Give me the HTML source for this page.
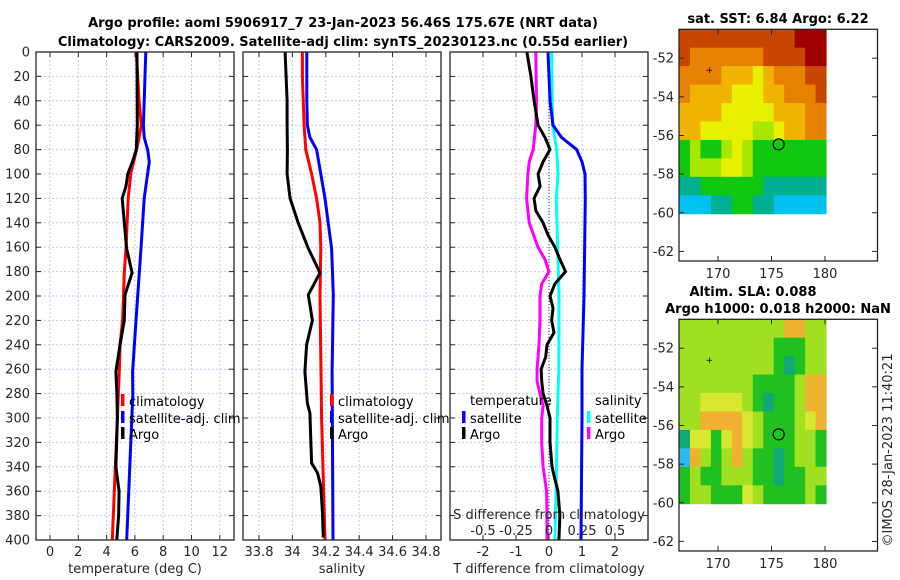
<!DOCTYPE html>
<html><head><meta charset="utf-8"><style>
html,body{margin:0;padding:0;background:#fff;}
svg{display:block;font-family:"DejaVu Sans","Liberation Sans",sans-serif;}
.tk{font-size:13px;fill:#262626;}
.lg{font-size:13px;fill:#000;}
.ttl{font-size:13px;font-weight:bold;fill:#000;}
</style></head><body>
<svg id="fig" width="900" height="580" viewBox="0 0 900 580" xmlns="http://www.w3.org/2000/svg">
<text class="ttl" x="343" y="27" text-anchor="middle">Argo profile: aoml 5906917_7 23-Jan-2023 56.46S 175.67E (NRT data)</text>
<text class="ttl" x="343" y="46" text-anchor="middle">Climatology: CARS2009. Satellite-adj clim: synTS_20230123.nc (0.55d earlier)</text>
<text class="ttl" x="778" y="23" text-anchor="middle">sat. SST: 6.84 Argo: 6.22</text>
<text class="ttl" x="753" y="296" text-anchor="middle">Altim. SLA: 0.088</text>
<text class="ttl" x="778" y="313" text-anchor="middle">Argo h1000: 0.018 h2000: NaN</text>
<text class="tk" x="0" y="0" transform="translate(892,450) rotate(-90)" text-anchor="middle" font-size="13">©IMOS 28-Jan-2023 11:40:21</text>
</svg>
<script>
// ---- data ----
const depthTclim=[0,40,60,70,80,99,120,161,181,220,240,262,281,400];
const tClim=[6.1,6.3,6.45,6.3,6.12,5.72,5.53,5.37,5.25,5.13,4.95,4.9,4.83,4.4];
const depthTsat=[0,40,60,70,80,90,120,161,220,262,281,400];
const tSat=[6.77,6.66,6.6,6.66,6.9,7.02,6.66,6.43,6.08,5.84,5.85,5.42];
const depthTargo=[0,60,80,90,100,110,120,140,161,181,199,220,240,262,281,300,340,360,380,400];
const tArgo=[6.15,6.17,6.1,5.82,5.5,5.37,5.1,5.25,5.41,5.8,5.3,5.25,4.95,4.66,4.73,4.76,4.66,4.88,4.85,4.72];
const depthSclim=[0,20,60,80,100,120,140,161,200,300,400];
const sClim=[34.06,34.06,34.07,34.08,34.115,34.145,34.165,34.17,34.165,34.175,34.195];
const depthSsat=[0,40,60,70,80,100,120,161,199,262,400];
const sSat=[34.086,34.086,34.09,34.105,34.145,34.17,34.195,34.235,34.245,34.238,34.243];
const depthSargo=[0,20,40,60,80,100,120,140,161,181,199,220,240,262,288,296,318,337,345,356,378,398];
const sArgo=[33.956,33.962,33.968,33.968,33.97,33.968,33.986,34.035,34.095,34.165,34.095,34.12,34.085,34.075,34.09,34.105,34.11,34.115,34.15,34.17,34.18,34.185];
const depthD=[0,20,40,60,70,80,90,100,110,120,130,140,150,160,170,180,190,200,210,220,230,240,250,260,270,280,290,300,320,340,350,360,380,400];
const dTargo=[-0.67,-0.55,-0.45,-0.33,-0.12,0.03,-0.18,-0.33,-0.27,-0.45,-0.4,-0.18,-0.03,0.18,0.33,0.5,0.18,0.03,0.12,0.08,0.15,-0.06,-0.1,-0.24,-0.22,-0.18,-0.06,0.03,0.03,0.09,0.18,0.27,0.33,0.3];
const depthDsat=[0,40,60,70,80,90,100,120,200,260,300,400];
const dTsat=[-0.03,0.03,0.12,0.38,0.84,1.0,1.09,1.1,1.06,1.0,1.0,0.97];
const depthDS=[0,40,60,80,90,100,120,140,160,170,180,190,200,220,240,260,270,280,290,300,320,340,360,380,400];
const dSargo=[-0.1,-0.095,-0.1,-0.12,-0.15,-0.16,-0.17,-0.15,-0.083,-0.03,0,-0.055,-0.068,-0.068,-0.076,-0.09,-0.09,-0.068,-0.045,-0.055,-0.055,-0.045,-0.018,-0.015,-0.015];
const depthDSsat=[0,60,80,100,120,200,260,300,350,400];
const dSsat=[0.02,0.028,0.058,0.068,0.055,0.076,0.074,0.063,0.055,0.045];
const depthTicks=[0,20,40,60,80,100,120,140,160,180,200,220,240,260,280,300,320,340,360,380,400];
const tTicks=[0,2,4,6,8,10,12];
const sTicks=[33.8,34,34.2,34.4,34.6,34.8];
const dTTicks=[-2,-1,0,1,2];
const dSTicks=[-0.5,-0.25,0,0.25,0.5];
const sSTticks=['-0.5','-0.25','0','0.25','0.5'];
const lonTicks=[170,175,180];
const latTicks=[-52,-54,-56,-58,-60,-62];
const sstGrid=[
[8,8,8,8,8,8,8,8,8,8,8,9,9,9],
[8,7,7,7,7,7,7,7,8,8,8,8,9,9],
[7,7,7,7,6,6,6,5,6,7,7,7,8,8],
[7,6,6,6,6,5,5,5,6,6,7,7,7,8],
[6,6,6,6,5,5,5,5,5,6,6,6,7,7],
[6,6,5,5,5,5,5,4,4,5,6,6,7,7],
[3,4,3,3,4,5,4,3,3,3,3,3,3,3],
[3,4,4,4,5,5,4,3,3,3,3,3,3,3],
[2,2,3,3,3,3,3,3,2,2,2,2,2,2],
[1,1,1,2,2,3,3,2,2,1,1,1,1,1]];
const slaGrid=[
[4,4,4,4,4,4,4,4,4,4,6,6,4,4],
[4,4,4,4,4,4,4,4,4,3,3,3,4,4],
[4,4,4,4,4,4,4,4,4,3,2,3,4,4],
[4,4,4,4,4,4,4,3,3,3,3,4,6,6],
[4,4,5,5,5,5,4,3,2,3,3,4,6,6],
[4,4,6,6,6,6,5,4,3,3,3,4,5,6],
[2,5,5,3,5,6,5,4,3,3,3,4,4,3],
[1,6,4,3,4,6,4,3,3,2,3,4,4,3],
[3,4,3,3,4,4,4,3,3,2,3,3,4,4],
[3,4,4,3,3,3,5,4,3,3,3,3,4,3]];
const argoLon=175.67, argoLat=-56.46;
const markLon=169.2, markLat=-52.6;

// ---- drawing ----
const svg=document.getElementById('fig');
const NS='http://www.w3.org/2000/svg';
function mk(tag,attrs,parent){const e=document.createElementNS(NS,tag);for(const k in attrs)e.setAttribute(k,attrs[k]);(parent||svg).appendChild(e);return e;}
const Y0=52,Y1=540;
const yD=d=>Y0+(d/400)*(Y1-Y0);
function lin(v0,p0,v1,p1){return v=>p0+(v-v0)*(p1-p0)/(v1-v0);}
const panels=[
 {x0:36,x1:234,fx:lin(0,50,12,219.8),ticks:tTicks,labels:tTicks.map(String),title:'temperature (deg C)',name:'temperature'},
 {x0:243,x1:441,fx:lin(33.8,259,34.8,426),ticks:sTicks,labels:sTicks.map(String),title:'salinity',name:'salinity'},
 {x0:450,x1:648,fx:lin(0,549,2,615),ticks:dTTicks,labels:dTTicks.map(String),title:'T difference from climatology',name:'difference'}
];
panels.forEach((p,i)=>{
  const g=mk('g',{});
  
  
  p.ticks.forEach(t=>{const x=p.fx(t);const l=mk('line',{x1:x,x2:x,y1:Y0,y2:Y1,stroke:'#bccbec','stroke-width':1,'stroke-dasharray':'2,2'},g);});
  if(i===2){dSTicks.forEach(t=>{const x=p.fx(t*4);if(t!==0){const l=mk('line',{x1:x,x2:x,y1:Y0,y2:Y1,stroke:'#ecc8c8','stroke-width':1,'stroke-dasharray':'1,3'},g);}});}
  depthTicks.forEach(d=>{const y=yD(d);const l=mk('line',{x1:p.x0,x2:p.x1,y1:y,y2:y,stroke:'#bccbec','stroke-width':1,'stroke-dasharray':'2,2'},g);
    mk('line',{x1:p.x0,x2:p.x0+5,y1:y,y2:y,stroke:'#262626'},g);mk('line',{x1:p.x1-5,x2:p.x1,y1:y,y2:y,stroke:'#262626'},g);
    if(i===0){const t=mk('text',{class:'tk',x:30,y:y+4.5,'text-anchor':'end'});t.textContent=d;}
  });
  p.ticks.forEach((t,k)=>{const x=p.fx(t);mk('line',{x1:x,x2:x,y1:Y1,y2:Y1-5,stroke:'#262626'},g);mk('line',{x1:x,x2:x,y1:Y0,y2:Y0+5,stroke:'#262626'},g);
    const tx=mk('text',{class:'tk',x:x,y:556,'text-anchor':'middle'});tx.textContent=p.labels[k];});
  const at=mk('text',{class:'tk',x:(p.x0+p.x1)/2,y:573,'text-anchor':'middle','font-size':13.5});at.textContent=p.title;
  
  
  p.g=g;
});
function series(p,ds,vs,col,name,scale){
  const pts=ds.map((d,k)=>p.fx(vs[k]*(scale||1)).toFixed(1)+','+yD(d).toFixed(1)).join(' ');
  const l=mk('polyline',{points:pts,fill:'none',stroke:col,'stroke-width':3,'stroke-linejoin':'round'});
  
  
}
{const x=panels[2].fx(0);const l=mk('line',{x1:x,x2:x,y1:Y0,y2:Y1,stroke:'#333','stroke-width':1,'stroke-dasharray':'1,2'});}
series(panels[0],depthTclim,tClim,'#ff0000','temp-climatology-line');
series(panels[0],depthTsat,tSat,'#0000ff','temp-satellite-line');
series(panels[0],depthTargo,tArgo,'#000000','temp-argo-line');
series(panels[1],depthSclim,sClim,'#ff0000','sal-climatology-line');
series(panels[1],depthSsat,sSat,'#0000ff','sal-satellite-line');
series(panels[1],depthSargo,sArgo,'#000000','sal-argo-line');
series(panels[2],depthDSsat,dSsat,'#00ffff','sdiff-satellite-line',4);
series(panels[2],depthDS,dSargo,'#ff00ff','sdiff-argo-line',4);
series(panels[2],depthDsat,dTsat,'#0000ff','tdiff-satellite-line');
series(panels[2],depthD,dTargo,'#000000','tdiff-argo-line');
panels.forEach(p=>{const r=mk('rect',{x:p.x0,y:Y0,width:p.x1-p.x0,height:Y1-Y0,fill:'none',stroke:'#262626','stroke-width':1.3});});
{const p=panels[2];
 const st=mk('text',{class:'tk',x:549,y:519,'text-anchor':'middle','font-size':13.5});st.textContent='S difference from climatology';
 dSTicks.forEach((t,k)=>{const tx=mk('text',{class:'tk',x:p.fx(t*4),y:535,'text-anchor':'middle','font-size':13.5});tx.textContent=sSTticks[k];});}
function legItem(x,y,col,txt,name){mk('rect',{x:x-2,y:y-7,width:3.5,height:12,fill:col});const t=mk('text',{class:'lg',x:x+6,y:y+5,'font-size':13.5});t.textContent=txt;}
legItem(123,401,'#ff0000','climatology','legend-climatology');
legItem(123,418,'#0000ff','satellite-adj. clim','legend-satellite-adj');
legItem(123,434,'#000000','Argo','legend-argo');
legItem(332,401,'#ff0000','climatology','legend-climatology-sal');
legItem(332,418,'#0000ff','satellite-adj. clim','legend-satellite-adj-sal');
legItem(332,434,'#000000','Argo','legend-argo-sal');
{const t=mk('text',{class:'lg',x:470,y:405,'font-size':13.5});t.textContent='temperature';
 const t2=mk('text',{class:'lg',x:595,y:405,'font-size':13.5});t2.textContent='salinity';}
legItem(464,418,'#0000ff','satellite','legend-tdiff-satellite');
legItem(464,434,'#000000','Argo','legend-tdiff-argo');
legItem(589,418,'#00ffff','satellite','legend-sdiff-satellite');
legItem(589,434,'#ff00ff','Argo','legend-sdiff-argo');
const cmap=['#0050ff','#00c0f0','#00b090','#10c810','#a8e600','#e6f000','#f0b400','#e68200','#c84600','#a00000'];
const slaMap=['#0050ff','#30b8f0','#10a878','#20c020','#a0e020','#d8e830','#f0b030','#f09020','#d06000','#a00000'];
function drawMap(top,bottom,grid,cols,name){
  const fx=lin(170,718,180,825), fy=lin(-52,top+28.9,-62,top+28.9+193.2);
  const g=mk('g',{});
  const lon0=166.4,lon1=180.1,lat0=-50.5,lat1=-60.05;
  const nr=grid.length,nc=grid[0].length;
  grid.forEach((row,r)=>row.forEach((v,c)=>{
    const xa=fx(lon0+(lon1-lon0)*c/nc),xb=fx(lon0+(lon1-lon0)*(c+1)/nc);
    const ya=fy(lat0+(lat1-lat0)*r/nr),yb=fy(lat0+(lat1-lat0)*(r+1)/nr);
    const cell=mk('rect',{x:xa,y:ya,width:xb-xa+0.5,height:yb-ya+0.5,fill:cols[v]},g);
    
    
  }));
  mk('rect',{x:679,y:top,width:198.5,height:bottom-top,fill:'none',stroke:'#262626','stroke-width':1.3},g);
  lonTicks.forEach(t=>{const x=fx(t);mk('line',{x1:x,x2:x,y1:bottom,y2:bottom-5,stroke:'#262626'},g);mk('line',{x1:x,x2:x,y1:top,y2:top+5,stroke:'#262626'},g);
    const tx=mk('text',{class:'tk',x:x,y:bottom+17,'text-anchor':'middle',fill:'#444'},g);tx.textContent=t;});
  latTicks.forEach(t=>{const y=fy(t);mk('line',{x1:679,x2:684,y1:y,y2:y,stroke:'#262626'},g);mk('line',{x1:872,x2:877,y1:y,y2:y,stroke:'#262626'},g);
    const tx=mk('text',{class:'tk',x:674,y:y+4.5,'text-anchor':'end'},g);tx.textContent=t;});
  const c=mk('circle',{cx:fx(argoLon),cy:fy(argoLat),r:5.5,fill:'none',stroke:'#000','stroke-width':1.2},g);
  
  
  const m=mk('text',{x:fx(markLon),y:fy(markLat)+3,'font-size':9,'text-anchor':'middle',fill:'#000'},g);m.textContent='+';
  
  
}
drawMap(29.3,261,sstGrid,cmap,'sst-map');
drawMap(319.3,551,slaGrid,slaMap,'sla-map');
</script>
</body></html>
